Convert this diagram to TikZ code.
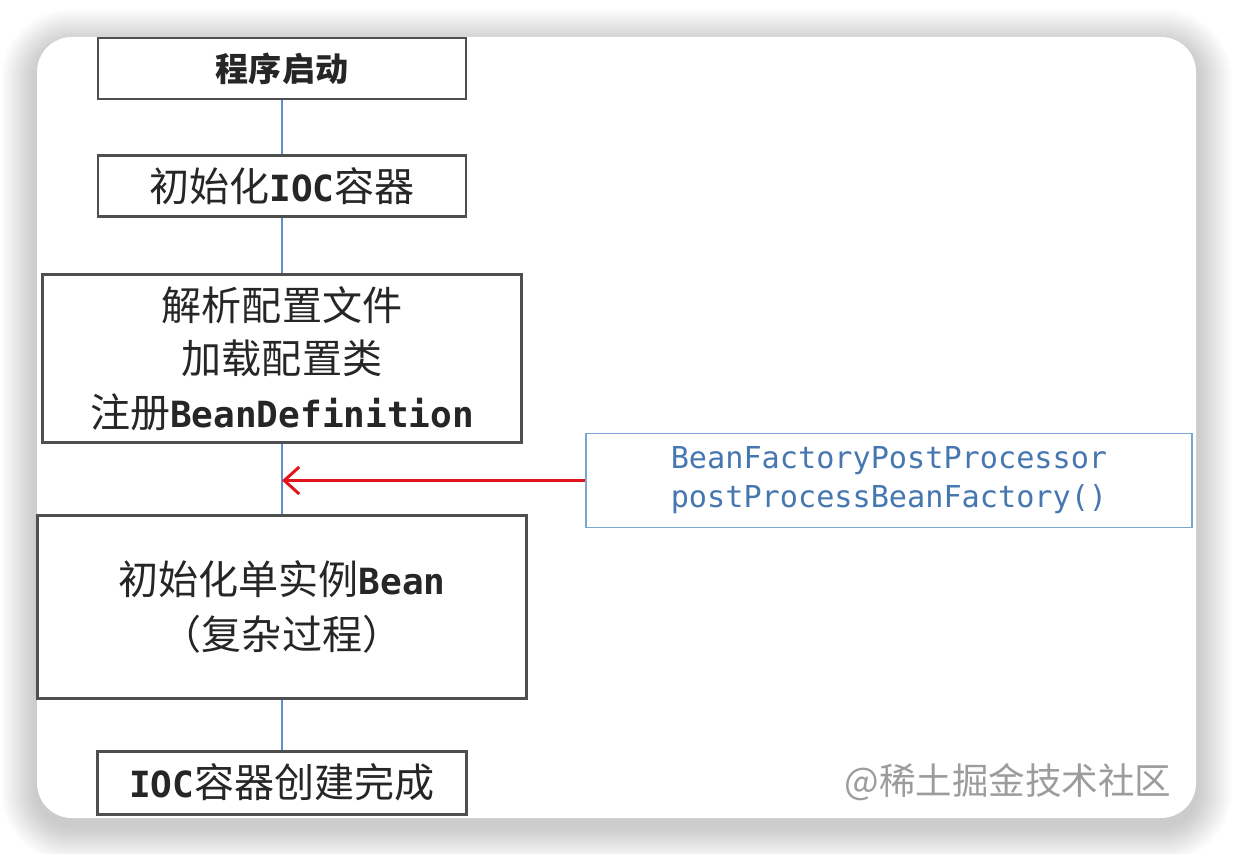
\documentclass[tikz,border=0pt]{standalone}
\usepackage{fontspec}
\setmainfont{Noto Sans CJK SC}
\setmonofont[Scale=0.9]{DejaVu Sans Mono}
\usetikzlibrary{positioning, arrows.meta}
\definecolor{frame}{HTML}{4F4F4F}
\definecolor{link}{HTML}{5B8FD0}
\definecolor{hook}{HTML}{7AA7D0}
\definecolor{hooktext}{HTML}{4677B0}
\definecolor{alert}{HTML}{E3141C}
\definecolor{ink}{HTML}{262626}
\definecolor{wmark}{HTML}{9C9C9C}
\newcommand{\cls}[1]{{\ttfamily\bfseries #1}}

\begin{document}
\begin{tikzpicture}[
  x=0.02cm, y=-0.02cm,
  stage/.style={rectangle, draw=frame, line width=1.6pt, fill=white,
                align=center, text=ink, inner sep=0pt,
                font=\fontsize{22.8}{30.4}\selectfont},
  hookbox/.style={rectangle, draw=hook, line width=1.1pt, fill=white,
                  align=center, text=hooktext, inner sep=0pt,
                  font=\ttfamily\fontsize{19.1}{22.2}\selectfont},
  flow/.style={link, line width=1.4pt},
  inject/.style={-{Straight Barb[length=0.3cm, width=0.54cm]}, alert, line width=1.7pt},
]
\useasboundingbox (0,0) rectangle (1234,854);

%% Card with soft shadow
\foreach \s in {1,...,18}
  \fill[black, opacity=0.010, rounded corners=0.7cm+\s*0.04cm]
    ({37-2*\s},{45-2*\s}) rectangle ({1196+2*\s},{826+2*\s});
\fill[white, rounded corners=0.7cm] (37,37) rectangle (1196,818);

%% Main chain
\node[stage, minimum width=7.36cm, minimum height=1.22cm,
      font=\fontsize{18.8}{24}\selectfont\bfseries] (start) at (282,68.5) {程序启动};
\node[stage, minimum width=7.36cm, minimum height=1.22cm, below=1.08cm of start] (initioc) {初始化\cls{IOC}容器};
\node[stage, minimum width=9.58cm, minimum height=3.36cm, below=1.10cm of initioc] (parse)
  {解析配置文件\\加载配置类\\注册\cls{BeanDefinition}};
\node[stage, minimum width=9.78cm, minimum height=3.66cm, below=1.40cm of parse,
      font=\fontsize{22.8}{31}\selectfont] (beans) {初始化单实例\cls{Bean}\\（复杂过程）};
\node[stage, minimum width=7.38cm, minimum height=1.26cm, below=1.00cm of beans] (done) {\cls{IOC}容器创建完成};

%% Post processor hook
\node[hookbox, minimum width=12.14cm, minimum height=1.88cm] (proc) at (889,480.5)
  {BeanFactoryPostProcessor\\postProcessBeanFactory()};
\coordinate (join) at (parse.south |- proc.west);

%% Connectors
\draw[flow] (start) -- (initioc);
\draw[flow] (initioc) -- (parse);
\draw[flow] (parse) -- (beans);
\draw[flow] (beans) -- (done);
\draw[inject] (proc.west) -- (join);

%% Watermark
\node[text=wmark, font=\fontsize{20.8}{24}\selectfont] (wm) at (1008,782) {@稀土掘金技术社区};

\end{tikzpicture}
\end{document}
